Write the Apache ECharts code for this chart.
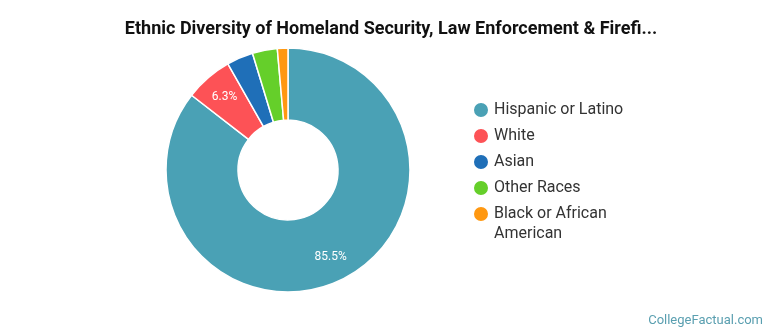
<!DOCTYPE html>
<html><head><meta charset="utf-8">
<script src="https://cdn.jsdelivr.net/npm/echarts@6/dist/echarts.min.js"></script>
<style>html,body{margin:0;padding:0;background:#fff}#c{width:770px;height:335px}</style>
</head><body><div id="c"></div>
<script>
const categories = ['Hispanic or Latino','White','Asian','Other Races','Black or African American'];
const values = [85.5, 6.3, 3.5, 3.3, 1.4];
const colors = ['#4aa1b5','#fd5256','#1f6fb8','#65cf2a','#ff9811'];
const labelled = ['85.5%','6.3%'];

const data = categories.map((n,i)=>({name:n,value:values[i],itemStyle:{color:colors[i]}}));
const chart = echarts.init(document.getElementById('c'));
chart.setOption({
  animation:false,
  title:{text:'Ethnic Diversity of Homeland Security, Law Enforcement & Firefi...',left:386,textAlign:'center',top:15,
    textStyle:{fontFamily:'Roboto',fontWeight:'bold',fontSize:18,color:'#111'}},
  legend:{orient:'vertical',left:467,top:94,itemWidth:16,itemHeight:16,itemGap:4,icon:'circle',
    data:categories,
    formatter:n=>n==='Black or African American'?'Black or African':n,
    textStyle:{fontFamily:'Roboto',fontSize:16,color:'#333',lineHeight:22}},
  graphic:[
    {type:'text',x:494,y:234,style:{text:'American',fill:'#333',font:'16px Roboto',verticalAlign:'middle'}},
    {type:'text',right:7,top:314,style:{text:'CollegeFactual.com',fill:'#5a9fb0',font:'13px Roboto'}}],
  series:[
    {type:'pie',center:[288,170],radius:[50,122],startAngle:90,clockwise:true,
     itemStyle:{borderColor:'#fff',borderWidth:1.5},label:{show:false},labelLine:{show:false},data:data},
    {type:'pie',center:[288,170],radius:[67,121],startAngle:90,clockwise:true,silent:true,
     legendHoverLink:false,
     itemStyle:{color:'rgba(0,0,0,0)'},labelLine:{show:false},
     label:{show:true,position:'inside',color:'#fff',fontFamily:'Roboto',fontSize:12,
       formatter:p=>{const s=p.value.toFixed(1)+'%';return labelled.includes(s)?s:'';}},
     data:categories.map((n,i)=>({name:n+' ',value:values[i]}))}
  ]
});
</script></body></html>
